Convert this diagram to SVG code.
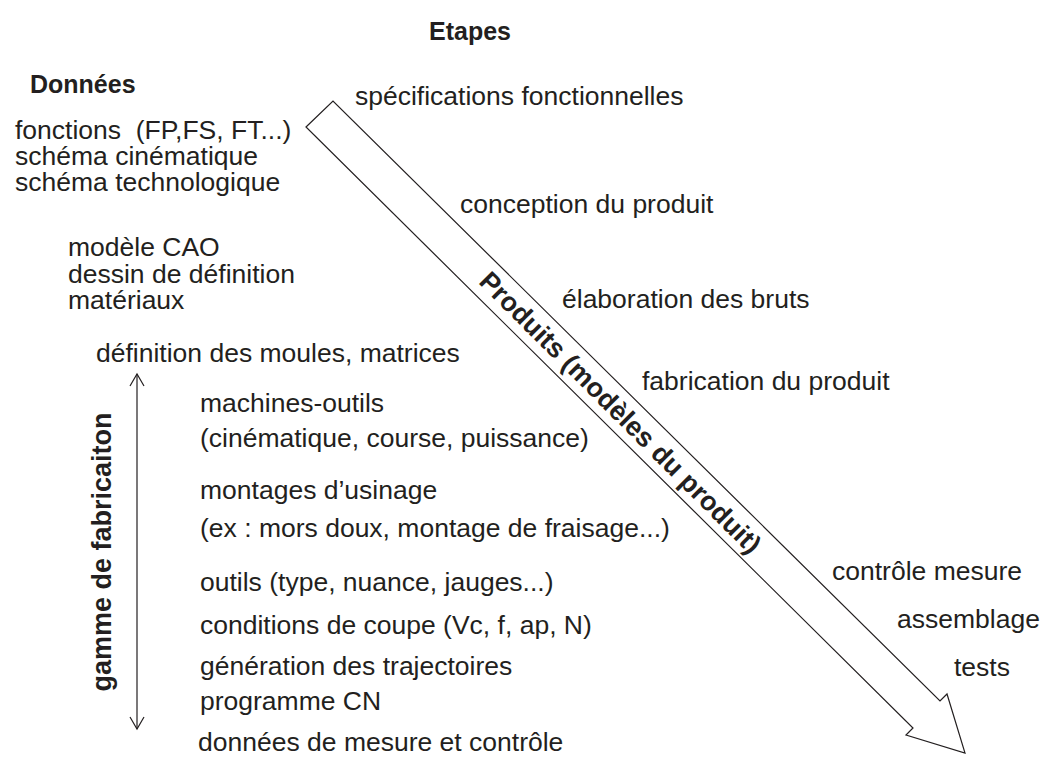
<svg xmlns="http://www.w3.org/2000/svg" width="1040" height="760" viewBox="0 0 1040 760">
<style>
.t{font-family:"Liberation Sans",Arial,sans-serif;font-size:26.5px;fill:#231f20}
.b{font-family:"Liberation Sans",Arial,sans-serif;font-size:25px;font-weight:bold;fill:#231f20}
.r{font-family:"Liberation Sans",Arial,sans-serif;font-size:27px;font-weight:bold;fill:#231f20}
.ln{fill:none;stroke:#231f20;stroke-width:1.2}
</style>
<rect width="1040" height="760" fill="#fff"/>
<g id="headers">
<text class="b" x="429" y="40">Etapes</text>
<text class="b" x="30" y="93">Données</text>
</g>
<g id="donnees">
<text class="t" x="15" y="139" xml:space="preserve">fonctions  (FP,FS, FT...)</text>
<text class="t" x="15" y="165">schéma cinématique</text>
<text class="t" x="15" y="191">schéma technologique</text>
<text class="t" x="68" y="256">modèle CAO</text>
<text class="t" x="68" y="283">dessin de définition</text>
<text class="t" x="68" y="309">matériaux</text>
<text class="t" x="96" y="362">définition des moules, matrices</text>
<text class="t" x="200" y="412">machines-outils</text>
<text class="t" x="200" y="447">(cinématique, course, puissance)</text>
<text class="t" x="200" y="499">montages d’usinage</text>
<text class="t" x="200" y="537">(ex : mors doux, montage de fraisage...)</text>
<text class="t" x="200" y="591">outils (type, nuance, jauges...)</text>
<text class="t" x="200" y="634">conditions de coupe (Vc, f, ap, N)</text>
<text class="t" x="200" y="675">génération des trajectoires</text>
<text class="t" x="200" y="710">programme CN</text>
<text class="t" x="198" y="751">données de mesure et contrôle</text>
</g>
<g id="etapes">
<text class="t" x="355" y="105">spécifications fonctionnelles</text>
<text class="t" x="460" y="213">conception du produit</text>
<text class="t" x="562" y="308">élaboration des bruts</text>
<text class="t" x="642" y="390">fabrication du produit</text>
<text class="t" x="832" y="580">contrôle mesure</text>
<text class="t" x="897" y="628">assemblage</text>
<text class="t" x="954" y="676">tests</text>
</g>
<g id="produits-arrow">
<polygon class="ln" points="306,127 333,101 940,701 947,694 965,753 906,735 913,728"/>
<text class="r" transform="translate(621,412) rotate(45)" text-anchor="middle" dy="10">Produits (modèles du produit)</text>
</g>
<g id="gamme">
<line class="ln" x1="137" y1="374" x2="137" y2="729"/>
<polyline class="ln" points="130,386 137,374 144,386"/>
<polyline class="ln" points="130,717 137,729 144,717"/>
<text class="r" transform="translate(111,552) rotate(-90)" text-anchor="middle">gamme de fabricaiton</text>
</g>
</svg>
